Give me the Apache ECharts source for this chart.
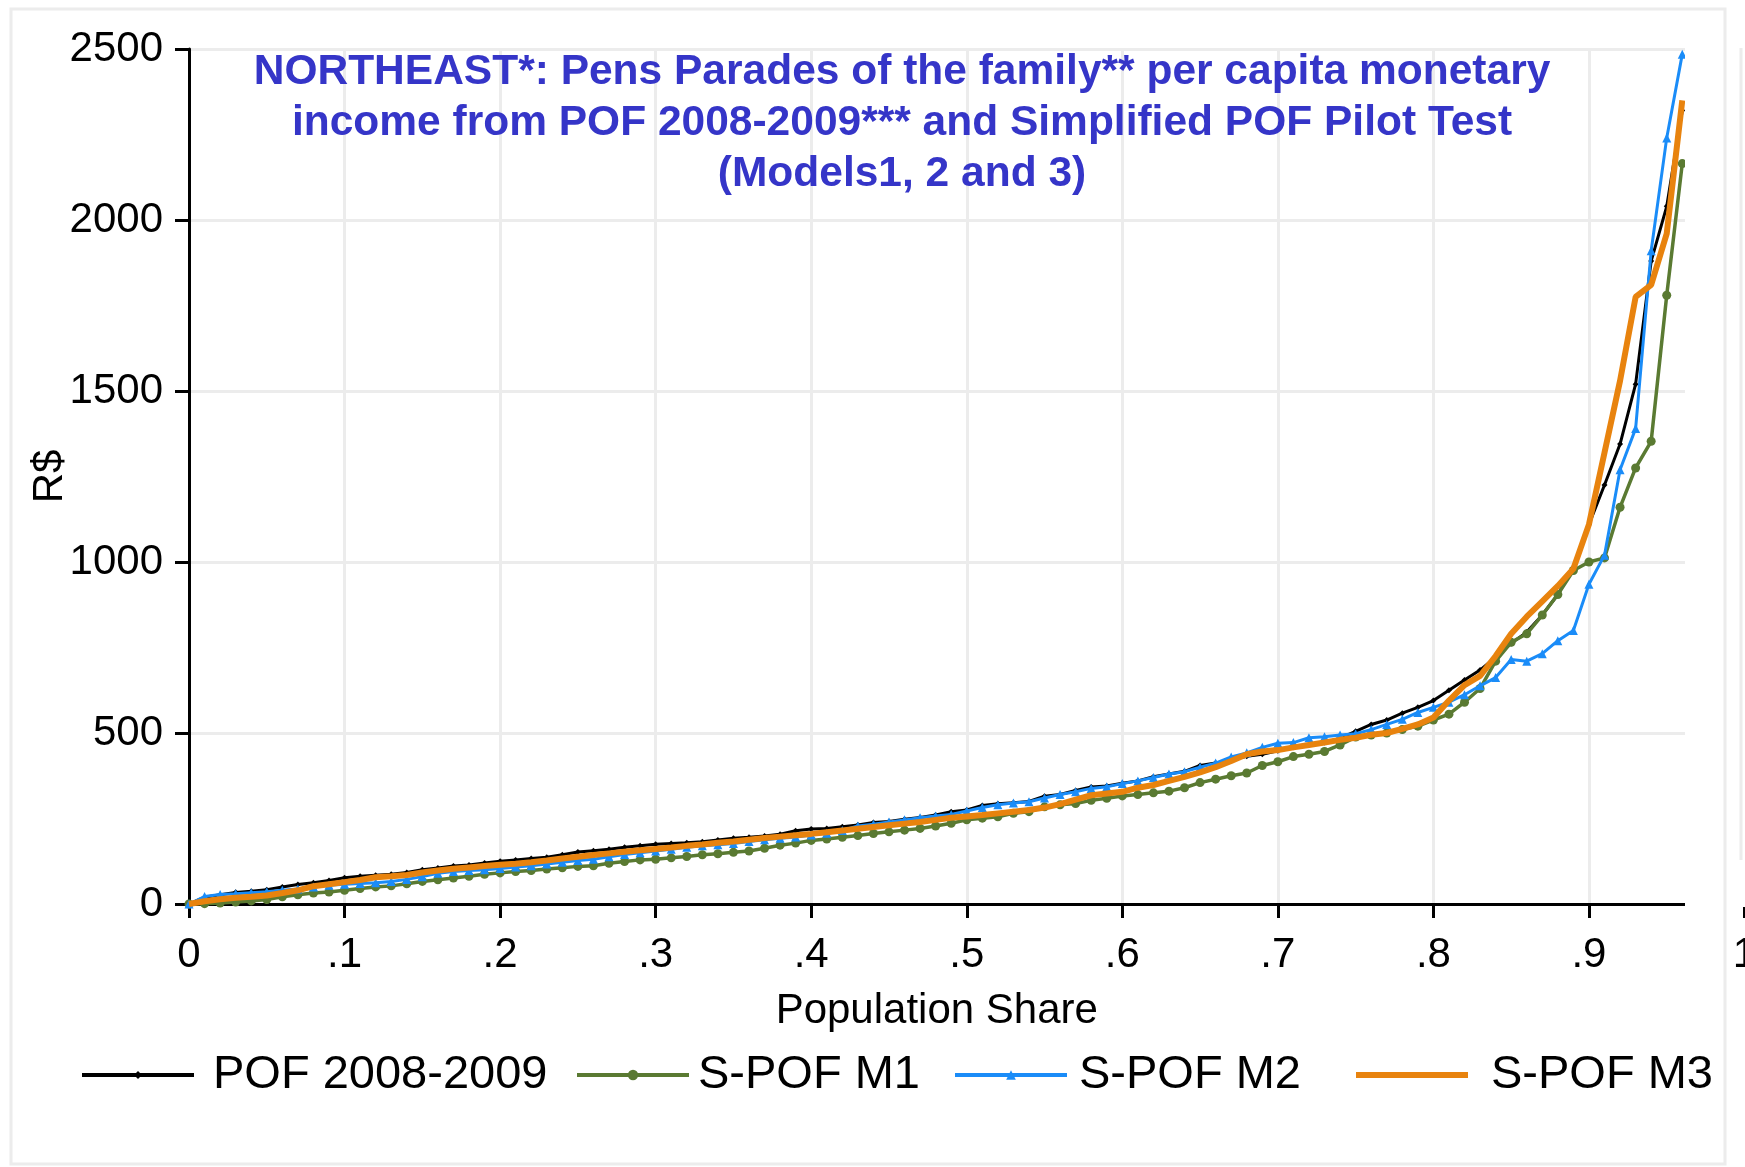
<!DOCTYPE html>
<html>
<head>
<meta charset="utf-8">
<script src="https://cdn.jsdelivr.net/npm/echarts@6/dist/echarts.min.js"></script>
<style>
html,body{margin:0;padding:0;background:#fff;}
#chart{width:1745px;height:1167px;}
</style>
</head>
<body>
<div id="chart"></div>
<script>
// Population share (x) at each percentile
var popShare = [];
for (var i = 0; i <= 96; i++) { popShare.push(i / 100); }

var pof = [0,20,27,34,37,42,50,57,62,69,
  77,81,84,87,92,100,105,111,114,120,
  125,129,133,137,144,152,156,160,166,170,
  175,177,179,182,187,192,195,199,204,214,
  219,221,226,231,238,241,248,253,260,270,
  275,288,293,296,300,315,320,332,342,345,
  353,360,372,380,388,405,412,422,432,438,
  448,458,465,472,485,505,525,538,558,575,
  595,625,655,684,722,762,795,845,905,985,
  1110,1225,1345,1520,1880,2040,2320];

var m1 = [0,1,3,6,9,13,21,27,32,35,
  40,45,50,53,59,66,71,76,81,87,
  91,95,98,102,106,110,112,119,124,129,
  131,135,139,144,147,151,155,163,172,178,
  186,190,195,200,206,211,216,221,228,236,
  246,251,255,265,270,284,290,294,303,309,
  316,320,325,330,340,355,365,375,383,405,
  416,431,438,446,465,488,494,500,510,520,
  538,555,590,630,710,765,790,845,905,975,
  1000,1012,1160,1275,1353,1780,2165];

var m2 = [0,22,28,30,33,36,40,44,50,55,
  58,60,62,66,72,80,90,95,98,100,
  104,108,112,117,122,127,131,138,145,150,
  155,160,166,170,173,177,183,188,192,196,
  202,207,215,228,233,240,246,252,257,262,
  272,282,290,295,299,310,320,328,338,343,
  352,360,370,380,387,400,412,430,442,458,
  470,472,486,489,494,498,510,525,540,560,
  575,590,612,638,662,715,710,732,770,800,
  935,1020,1270,1390,1910,2240,2485];

var m3 = [0,8,14,18,21,25,32,40,52,58,
  64,70,78,81,85,92,98,103,107,111,
  115,118,122,127,133,138,143,148,153,157,
  161,165,170,174,179,183,188,193,197,201,
  205,210,215,220,225,230,235,240,246,252,
  256,260,265,270,275,282,292,305,318,323,
  328,340,348,360,372,385,400,418,438,446,
  450,458,465,472,480,486,495,500,512,525,
  545,595,640,667,725,790,840,885,930,980,
  1110,1320,1530,1775,1810,1960,2350];

var seriesNames = ['POF 2008-2009', 'S-POF M1', 'S-POF M2', 'S-POF M3'];
var xTickLabels = ['0','.1','.2','.3','.4','.5','.6','.7','.8','.9','1'];
var yTickLabels = ['0','500','1000','1500','2000','2500'];

function zip(xs, ys) { return xs.map(function (x, i) { return [x, ys[i]]; }); }

var FONT = 'Liberation Sans, Arial, Helvetica, sans-serif';
var chart = echarts.init(document.getElementById('chart'), null, {renderer: 'canvas'});

function legendFor(name, left, pad, icon, ih) {
  var item = icon ? {name: name, icon: icon} : {name: name};
  return {
    data: [item], left: left, top: 1048, orient: 'horizontal',
    itemWidth: 112, itemHeight: ih, padding: 0,
    lineStyle: {width: 4},
    textStyle: {fontFamily: FONT, fontSize: 47, color: '#000', padding: [0, 0, 0, pad], lineHeight: 54},
    selectedMode: false
  };
}

var option = {
  animation: false,
  backgroundColor: '#ffffff',
  title: {
    text: 'NORTHEAST*: Pens Parades of the family** per capita monetary\nincome from POF 2008-2009*** and Simplified POF Pilot Test\n(Models1, 2 and 3)',
    left: 902, top: 47, textAlign: 'center', padding: 0,
    textStyle: {fontFamily: FONT, fontSize: 42.5, fontWeight: 'bold', color: '#3535c8', lineHeight: 51, align: 'center'}
  },
  legend: [
    legendFor(seriesNames[0], 80, 14, null, 10),
    legendFor(seriesNames[1], 575, 4, null, 13),
    legendFor(seriesNames[2], 953, 7, null, 12),
    legendFor(seriesNames[3], 1356, 18, 'rect', 6)
  ],
  grid: {left: 189, right: 0.5, top: 49, bottom: 263, containLabel: false, outerBoundsMode: 'none'},
  xAxis: {
    type: 'value', min: 0, max: 1, interval: 0.1,
    name: 'Population Share', nameLocation: 'middle', nameGap: 86,
    nameTextStyle: {fontFamily: FONT, fontSize: 42, color: '#000', padding: [0, 60, 0, 0]},
    axisLine: {show: true, onZero: false, lineStyle: {color: '#000', width: 3}},
    axisTick: {show: true, inside: false, length: 14, lineStyle: {color: '#000', width: 3}},
    axisLabel: {fontFamily: FONT, fontSize: 42, color: '#000', margin: 30, hideOverlap: false,
      formatter: function (v) { return xTickLabels[Math.round(v * 10)]; }},
    splitLine: {show: true, lineStyle: {color: '#ececec', width: 3}}
  },
  yAxis: {
    type: 'value', min: 0, max: 2500, interval: 500,
    name: 'R$', nameLocation: 'middle', nameGap: 118, nameRotate: 90, nameMoveOverlap: false,
    nameTextStyle: {fontFamily: FONT, fontSize: 42, color: '#000'},
    axisLine: {show: true, lineStyle: {color: '#000', width: 3}},
    axisTick: {show: true, inside: false, length: 14, lineStyle: {color: '#000', width: 3}},
    axisLabel: {fontFamily: FONT, fontSize: 42, color: '#000', margin: 26,
      formatter: function (v) { return yTickLabels[Math.round(v / 500)]; }},
    splitLine: {show: true, lineStyle: {color: '#ececec', width: 3}}
  },
  series: [
    {name: seriesNames[0], type: 'line', data: zip(popShare, pof), z: 2,
     symbol: 'diamond', symbolSize: 6, showAllSymbol: true,
     lineStyle: {color: '#000000', width: 3}, itemStyle: {color: '#000000'}},
    {name: seriesNames[1], type: 'line', data: zip(popShare, m1), z: 3,
     symbol: 'circle', symbolSize: 9, showAllSymbol: true,
     lineStyle: {color: '#5a7a32', width: 3.5}, itemStyle: {color: '#5a7a32'}},
    {name: seriesNames[2], type: 'line', data: zip(popShare, m2), z: 4,
     symbol: 'triangle', symbolSize: 9, showAllSymbol: true,
     lineStyle: {color: '#1a8cf8', width: 3}, itemStyle: {color: '#1a8cf8'}},
    {name: seriesNames[3], type: 'line', data: zip(popShare, m3), z: 5,
     symbol: 'none', showSymbol: false,
     lineStyle: {color: '#e8830e', width: 6}, itemStyle: {color: '#e8830e'}}
  ],
  graphic: [
    {type: 'rect', z: 100, shape: {x: 1685, y: 30, width: 60, height: 877},
     style: {fill: '#ffffff'}, silent: true},
    {type: 'line', z: 101, shape: {x1: 1741, y1: 48, x2: 1741, y2: 860},
     style: {stroke: '#ececec', lineWidth: 3}, silent: true},
    {type: 'rect', z: 102, shape: {x: 11, y: 9, width: 1714, height: 1155},
     style: {fill: 'none', stroke: '#ececec', lineWidth: 3}, silent: true}
  ]
};
chart.setOption(option);
</script>
</body>
</html>
